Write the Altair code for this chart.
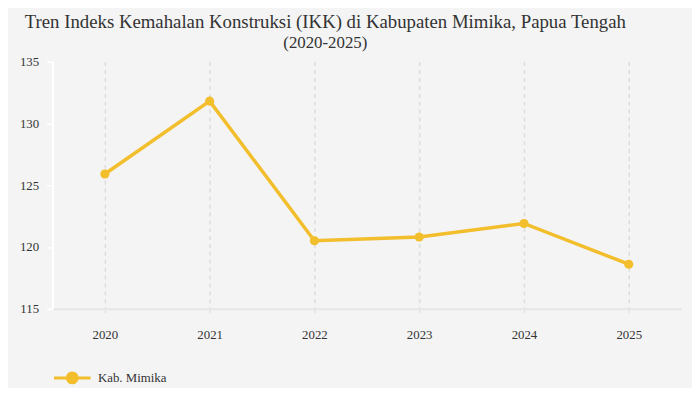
import altair as alt
import pandas as pd

years = ["2020", "2021", "2022", "2023", "2024", "2025"]
ikk = [125.9, 131.8, 120.5, 120.8, 121.9, 118.6]
series = "Kab. Mimika"
y_ticks = [115, 120, 125, 130, 135]

df = pd.DataFrame({"Tahun": years, "IKK": ikk, "Wilayah": [series] * len(years)})

color = "#F2BE2B"
font = "Liberation Serif"

legend_symbol = "M-1,0L1,0M-0.27,0a0.27,0.27 0 1,0 0.54,0a0.27,0.27 0 1,0 -0.54,0Z"

chart = (
    alt.Chart(df)
    .mark_line(strokeWidth=3.5, point=alt.OverlayMarkDef(size=85, filled=True, opacity=1))
    .encode(
        x=alt.X(
            "Tahun:O",
            title=None,
            scale=alt.Scale(type="point", padding=0.5),
            axis=alt.Axis(
                labelAngle=0,
                labelPadding=14,
                labelFont=font,
                domainColor="#e6e6e6",
                domainWidth=2,
                grid=True,
                gridColor="#dcdcdc",
                gridDash=[4, 4],
                gridWidth=1.5,
                ticks=True,
                tickColor="#dcdcdc",
                tickDash=[4, 4],
                tickSize=6,
            ),
        ),
        y=alt.Y(
            "IKK:Q",
            title=None,
            scale=alt.Scale(domain=[115, 135], nice=False, zero=False),
            axis=alt.Axis(
                values=y_ticks,
                labelPadding=8,
                labelFont=font,
                grid=False,
                domainColor="#ffffff",
                domainWidth=2,
                tickColor="#ffffff",
                tickWidth=1.5,
                tickSize=6,
            ),
        ),
        color=alt.Color(
            "Wilayah:N",
            scale=alt.Scale(range=[color]),
            legend=alt.Legend(
                title=None,
                orient="none",
                legendX=0,
                legendY=300,
                symbolType=legend_symbol,
                symbolSize=1369,
                symbolStrokeWidth=3,
                symbolFillColor=color,
                symbolStrokeColor=color,
                labelOffset=6,
                labelFont=font,
            ),
        ),
    )
    .properties(
        width=636,
        height=250,
        background="#f4f4f4",
        padding={"left": 45, "top": 52, "right": 11, "bottom": 78},
        autosize=alt.AutoSizeParams(type="none"),
        title=alt.TitleParams(
            text="Tren Indeks Kemahalan Konstruksi (IKK) di Kabupaten Mimika, Papua Tengah",
            subtitle="(2020-2025)",
            font=font,
            fontSize=19,
            fontWeight="normal",
            color="#333333",
            subtitleFont=font,
            subtitleFontSize=17,
            subtitleColor="#333333",
            subtitlePadding=3,
            anchor="middle",
            dx=-42,
            offset=5,
        ),
    )
    .configure_view(stroke=None)
    .configure_axis(labelFont=font, labelFontSize=13, labelColor="#333333")
    .configure_legend(labelFont=font, labelFontSize=13, labelColor="#333333")
)

chart.save("out.html", embed_options={"renderer": "svg", "actions": False})
